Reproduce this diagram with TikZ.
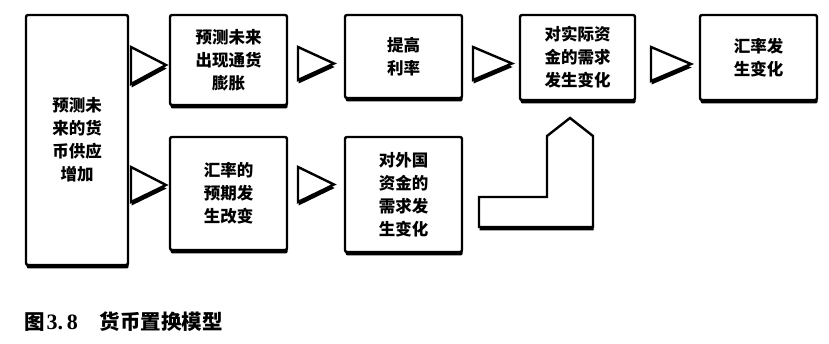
\documentclass[tikz,border=0pt]{standalone}
\usepackage{fontspec}
\newfontfamily\cjk{Noto Sans CJK SC}
\newfontfamily\numfont{Liberation Serif}
\usetikzlibrary{shadows}
\tikzset{
  shad/.style={drop shadow={shadow xshift=0.6pt, shadow yshift=-3.5pt, opacity=1, fill=black}},
  stepbox/.style={draw=black, line width=2.4pt, fill=white, rounded corners=2pt, shad,
    inner sep=0pt, align=center, font=\cjk\bfseries\fontsize{16.5}{23}\selectfont},
  tri/.style={draw=black, line width=2.4pt, fill=white, line join=miter, shad},
}
\begin{document}
\begin{tikzpicture}[x=1pt,y=-1pt]
\useasboundingbox (0,0) rectangle (829,344);
% boxes
\node[stepbox, minimum width=102pt, minimum height=250pt] (big) at (77,140) {预测未\\来的货\\币供应\\增加};
\node[stepbox, minimum width=117pt, minimum height=90pt] (b1) at (228.5,60) {预测未来\\出现通货\\膨胀};
\node[stepbox, minimum width=117pt, minimum height=83pt] (b2) at (403.5,56.5) {提高\\利率};
\node[stepbox, minimum width=115pt, minimum height=85pt] (b3) at (577.5,57.5) {对实际资\\金的需求\\发生变化};
\node[stepbox, minimum width=117pt, minimum height=85pt] (b4) at (758.5,57.5) {汇率发\\生变化};
\node[stepbox, minimum width=117pt, minimum height=113pt] (b5) at (228.5,193.5) {汇率的\\预期发\\生改变};
\node[stepbox, minimum width=117pt, minimum height=115pt] (b6) at (403.5,194.5) {对外国\\资金的\\需求发\\生变化};
% triangular arrows
\path[tri] (131,47) -- (166,65) -- (131,84) -- cycle;
\path[tri] (131,167) -- (166,185) -- (131,202) -- cycle;
\path[tri] (298,47) -- (334,63.5) -- (298,80) -- cycle;
\path[tri] (473,47) -- (512,63.5) -- (473,80) -- cycle;
\path[tri] (651,47) -- (691,64) -- (651,81) -- cycle;
\path[tri] (298,167) -- (334,184.5) -- (298,202) -- cycle;
% L-shaped arrow from b6 region up to b3
\path[tri] (479,197) -- (547,197) -- (547,136) -- (570,118) -- (593,136) -- (593,227) -- (479,227) -- cycle;
% caption
\node[anchor=west, inner sep=0pt, font=\cjk\bfseries\fontsize{20.5}{24}\selectfont] (cap) at (24,322)
  {图\hspace{2pt}{\numfont\bfseries\fontsize{22}{24}\selectfont 3.\,8}\hspace{22pt}货币置换模型};
\end{tikzpicture}
\end{document}
